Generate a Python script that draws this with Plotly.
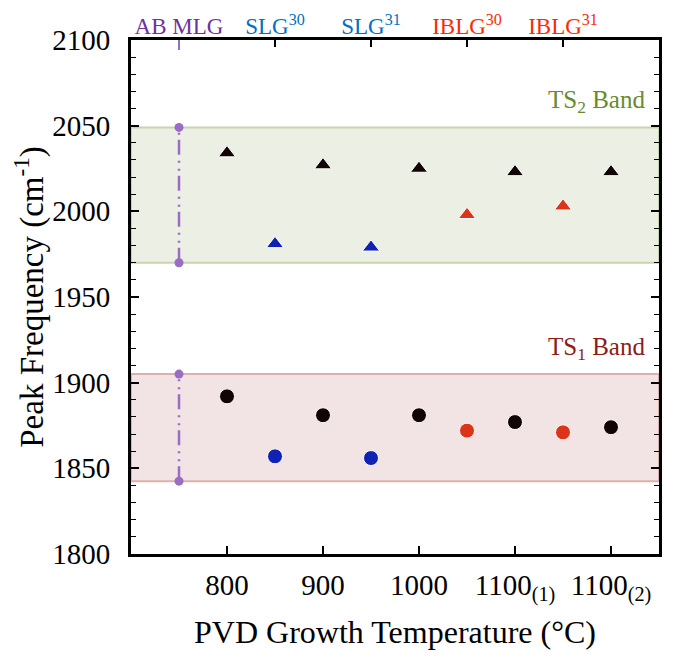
import plotly.graph_objects as go

# ---- data ----
this_work_x = [800, 900, 1000, 1100, 1200]
this_work_ts1 = [1892, 1881, 1881, 1877, 1874]
this_work_ts2 = [2034, 2027, 2025, 2023, 2023]

slg_x = [850, 950]
slg_ts1 = [1857, 1856]
slg_ts2 = [1981, 1979]

iblg_x = [1050, 1150]
iblg_ts1 = [1872, 1871]
iblg_ts2 = [1998, 2003]

ab_mlg_x = [750, 750]
ts1_band = [1842.5, 1905]
ts2_band = [1970, 2049]

bottom_tickvals = [800, 900, 1000, 1100, 1200]
bottom_ticktext = ["800", "900", "1000", "1100<sub>(1)</sub>", "1100<sub>(2)</sub>"]
top_tickvals = [750, 850, 950, 1050, 1150]
top_labels = ["AB MLG", "SLG<sup>30</sup>", "SLG<sup>31</sup>", "IBLG<sup>30</sup>", "IBLG<sup>31</sup>"]
top_colors = ["#7030a0", "#0070c0", "#0070c0", "#ff2a00", "#ff2a00"]
y_tickvals = [1800, 1850, 1900, 1950, 2000, 2050, 2100]

x_range = [700, 1250]
y_range = [1800, 2100]

FONT = "Liberation Serif"
BLACK = "#120505"
BLUE = "#0f22b4"
RED = "#dc3419"
PURPLE = "#9b6cc4"

fig = go.Figure()

# bands
fig.add_shape(type="rect", xref="x domain", yref="y", x0=0, x1=1,
              y0=ts2_band[0], y1=ts2_band[1], fillcolor="#ecefe3",
              line=dict(color="#c7d6aa", width=2), layer="below")
fig.add_shape(type="rect", xref="x domain", yref="y", x0=0, x1=1,
              y0=ts1_band[0], y1=ts1_band[1], fillcolor="#f2e4e4",
              line=dict(color="#ddb0b0", width=2), layer="below")

# AB MLG range lines
for band in (ts2_band, ts1_band):
    fig.add_trace(go.Scatter(
        x=ab_mlg_x, y=band, mode="lines+markers",
        line=dict(color=PURPLE, width=2.5, dash="15px,5px,2px,6px,2px,6px"),
        marker=dict(color=PURPLE, size=9), showlegend=False, hoverinfo="skip"))

def add_points(xs, ys, color, symbol, size):
    fig.add_trace(go.Scatter(
        x=xs, y=ys, mode="markers", showlegend=False,
        marker=dict(color=color, symbol=symbol, size=size,
                    line=dict(color="white", width=1))))

add_points(this_work_x, this_work_ts2, BLACK, "triangle-up", 15)
add_points(slg_x, slg_ts2, BLUE, "triangle-up", 15)
add_points(iblg_x, iblg_ts2, RED, "triangle-up", 15)
add_points(this_work_x, this_work_ts1, BLACK, "circle", 15)
add_points(slg_x, slg_ts1, BLUE, "circle", 15)
add_points(iblg_x, iblg_ts1, RED, "circle", 15)

# invisible traces to activate the top axes
fig.add_trace(go.Scatter(x=x_range, y=y_range, xaxis="x2", mode="markers",
                         marker=dict(opacity=0), showlegend=False, hoverinfo="skip"))
fig.add_trace(go.Scatter(x=x_range, y=y_range, xaxis="x3", mode="markers",
                         marker=dict(opacity=0), showlegend=False, hoverinfo="skip"))

# band labels
fig.add_annotation(xref="x domain", yref="y", x=0.978, y=2064, xanchor="right",
                   yanchor="middle", showarrow=False,
                   text="TS<sub>2</sub> Band",
                   font=dict(family=FONT, size=25, color="#6a8a2c"))
fig.add_annotation(xref="x domain", yref="y", x=0.978, y=1920, xanchor="right",
                   yanchor="middle", showarrow=False,
                   text="TS<sub>1</sub> Band",
                   font=dict(family=FONT, size=25, color="#8b1c1c"))

top_ticktext = [f"<span style='color:{c}'>{t}</span>" for t, c in zip(top_labels, top_colors)]

# the page body adds an 8px offset, so the figure is sized to the visible area
fig.update_layout(
    width=667, height=650,
    margin=dict(l=123, r=16, t=32, b=104, autoexpand=False),
    plot_bgcolor="white", paper_bgcolor="white",
    font=dict(family=FONT, color="black"),
    xaxis=dict(range=x_range, tickvals=bottom_tickvals, ticktext=bottom_ticktext,
               ticks="inside", ticklen=8, tickwidth=1.5, tickcolor="black",
               showline=True, linecolor="black", linewidth=3, mirror=True,
               showgrid=False, zeroline=False, ticklabelstandoff=3,
               automargin=False,
               tickfont=dict(family=FONT, size=29, color="black"),
               title=dict(text="PVD Growth Temperature (°C)", standoff=16,
                          font=dict(family=FONT, size=32, color="black"))),
    xaxis2=dict(range=x_range, overlaying="x", side="top", anchor="y",
                tickvals=top_tickvals, ticktext=top_ticktext,
                ticks="inside", ticklen=7, tickwidth=1.5, tickcolor="black",
                showline=False, showgrid=False, zeroline=False,
                ticklabelstandoff=0, automargin=False,
                tickfont=dict(family=FONT, size=23)),
    xaxis3=dict(range=x_range, overlaying="x", side="top", anchor="y",
                tickvals=[ab_mlg_x[0]], ticktext=[""],
                ticks="inside", ticklen=10, tickwidth=2, tickcolor=PURPLE,
                showline=False, showgrid=False, zeroline=False,
                showticklabels=False, automargin=False),
    yaxis=dict(range=y_range, tickvals=y_tickvals,
               ticks="inside", ticklen=8, tickwidth=1.5, tickcolor="black",
               minor=dict(dtick=10, ticks="inside", ticklen=5, tickwidth=1.2,
                          tickcolor="black"),
               showline=True, linecolor="black", linewidth=3, mirror="ticks",
               showgrid=False, zeroline=False, ticklabelstandoff=12,
               automargin=False,
               tickfont=dict(family=FONT, size=29, color="black"),
               title=dict(text="Peak Frequency (cm<sup>-1</sup>)", standoff=22,
                          font=dict(family=FONT, size=33, color="black"))),
)

fig.write_html("out.html")
